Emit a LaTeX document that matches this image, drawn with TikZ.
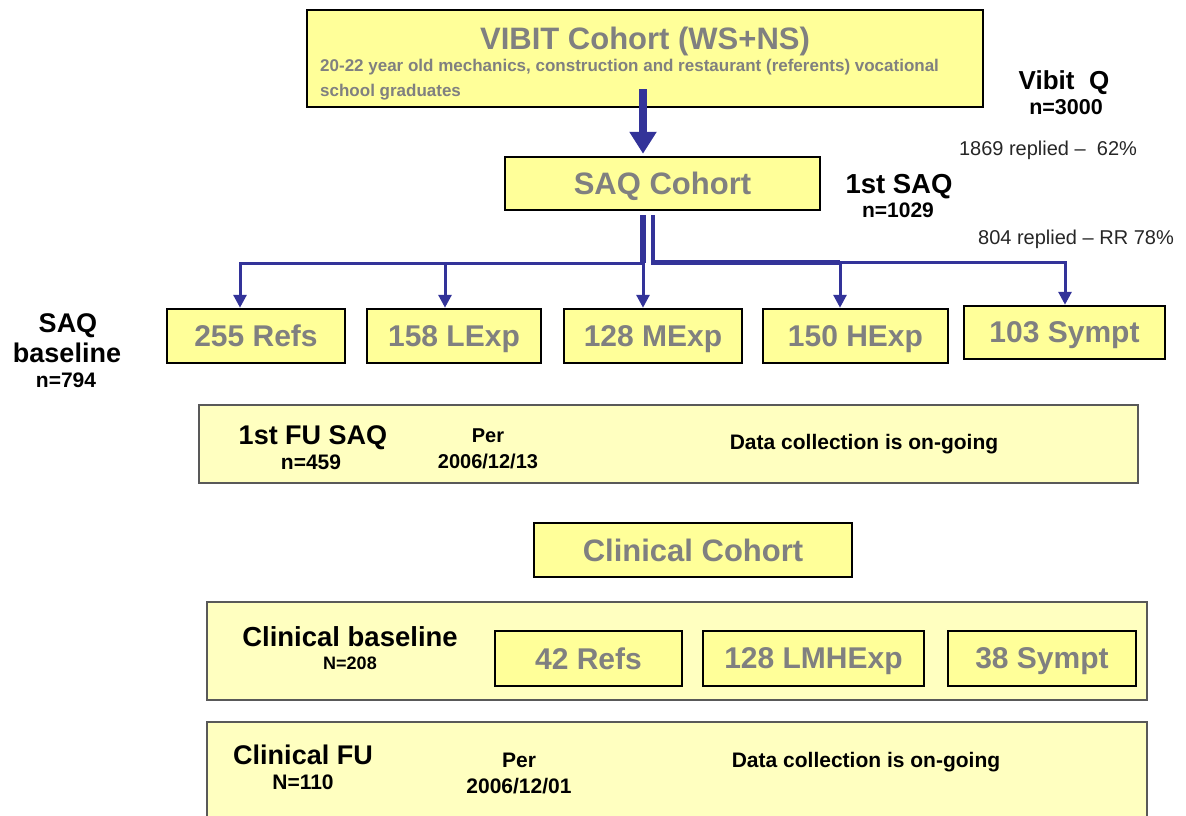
\documentclass[tikz,border=0pt]{standalone}
\usepackage{fontspec}
\setmainfont{Liberation Sans}
\usetikzlibrary{arrows.meta,positioning}
\definecolor{boxyellow}{HTML}{FFFF99}
\definecolor{paleyellow}{HTML}{FFFFC0}
\definecolor{labelgray}{HTML}{808080}
\definecolor{arrowblue}{HTML}{333399}
\newcommand{\fs}[1]{\fontsize{#1}{#1}\selectfont}
\tikzset{
    cohort/.style={draw=black, line width=2.5pt, fill=boxyellow, inner sep=0pt,
      text=labelgray, text depth=0pt, font=\bfseries\fs{30}},
    panel/.style={draw=black!65, line width=1.3pt, fill=paleyellow},
    head/.style={anchor=base, font=\bfseries\fs{27}},
    count/.style={anchor=base, font=\bfseries\fs{21}},
    note/.style={anchor=base, text=black!85, font=\fs{20}},
    branch/.style={draw=arrowblue, line width=3pt},
    drop/.style={branch, -{Triangle[width=13pt,length=13pt]}},
  }

\begin{document}
\begin{tikzpicture}[x=1pt,y=-1pt]
				  \useasboundingbox (0,0) rectangle (1186,816);
				  %cohort boxes
				  \node[cohort, minimum width=676, minimum height=97] (vibit) at (645,58.5) {};
				  \node[anchor=base, text=labelgray, font=\bfseries\fs{31}] (vibitT) at (645,49) {VIBIT Cohort (WS+NS)};
				  \node[anchor=base west, inner sep=0pt, text=labelgray, font=\bfseries\fs{17}] (vibitA) at (320,71)
				    {20-22 year old mechanics, construction and restaurant (referents) vocational};
				  \node[anchor=base west, inner sep=0pt, text=labelgray, font=\bfseries\fs{17}] (vibitB) at (320,96)
				    {school graduates};
				  \node[cohort, minimum width=315, minimum height=53, font=\bfseries\fs{31}] (saq) at (662.5,183.5) {SAQ Cohort};

				  %counts on the right
				  \node[head, font=\bfseries\fs{26}] (vq) at (1064,89) {Vibit~~Q};
				  \node[count, font=\bfseries\fs{21.5}] (vqn) at (1066,114) {n=3000};
				  \node[note] (rr1) at (1048,155) {1869 replied --~ 62\%};
				  \node[head, font=\bfseries\fs{27.5}] (sq) at (899,193) {1st SAQ};
				  \node[count] (sqn) at (898,217) {n=1029};
				  \node[note] (rr2) at (1076,244) {804 replied -- RR 78\%};

				  %saq baseline groups
				  \node[head] (sb1) at (68,332) {SAQ};
				  \node[head] (sb2) at (67,362) {baseline};
				  \node[count] (sb3) at (66,387) {n=794};
				  \node[cohort, minimum width=178, minimum height=54] (refs) at (256,336) {255 Refs};
				  \node[cohort, minimum width=174, minimum height=54] (lexp) at (454,336) {158 LExp};
				  \node[cohort, minimum width=178, minimum height=54] (mexp) at (653,336) {128 MExp};
				  \node[cohort, minimum width=185, minimum height=54] (hexp) at (855.5,336) {150 HExp};
				  \node[cohort, minimum width=201, minimum height=53] (sympt) at (1064.5,332.5) {103 Sympt};

				  %arrows
				  \draw[arrowblue, line width=8pt, -{Triangle[width=26pt,length=22pt]}]
				    ([xshift=-2pt,yshift=19pt]vibit.south) -- ([xshift=-19.5pt,yshift=2pt]saq.north);
				  \coordinate (forkL) at (645,263);
				  \coordinate (forkR) at (651,262);
				  \draw[branch, line width=6pt] ([xshift=-19.5pt,yshift=-4pt]saq.south) -- ++(0,48);
				  \draw[branch, line width=4pt] ([xshift=-9.5pt,yshift=-4pt]saq.south) -- ++(0,47);
				  \draw[drop] (forkL) -| ([xshift=-16pt]refs.north);
				  \draw[drop] (forkR) -| ([xshift=0.5pt]sympt.north);
				  \draw[branch, line width=5pt] (forkR) -- ([xshift=-15.5pt]hexp.north |- forkR);
				  \draw[drop] ([xshift=-9pt]lexp.north |- forkL) -- ([xshift=-9pt]lexp.north);
				  \draw[drop] ([xshift=-10pt]mexp.north |- forkL) -- ([xshift=-10pt]mexp.north);
				  \draw[drop] ([xshift=-15.5pt]hexp.north |- forkR) -- ([xshift=-15.5pt]hexp.north);

				  %follow up saq
				  \node[panel, minimum width=939, minimum height=78] (fu) at (668.5,444) {};
				  \node[head] (fuT) at (313,444) {1st FU SAQ};
				  \node[count] (fuN) at (311,469) {n=459};
				  \node[count, font=\bfseries\fs{20}] (fuP) at (488,442) {Per};
				  \node[count, font=\bfseries\fs{20}] (fuD) at (488,468) {2006/12/13};
				  \node[count] (fuC) at (864,449) {Data collection is on-going};

				  %clinical cohort
				  \node[cohort, minimum width=318, minimum height=54, font=\bfseries\fs{31}] (clin) at (693,550) {Clinical Cohort};
				  \node[panel, minimum width=940, minimum height=98] (cb) at (677,651) {};
				  \node[head, font=\bfseries\fs{27.5}] (cbT) at (350,646) {Clinical baseline};
				  \node[count, font=\bfseries\fs{18}] (cbN) at (350,669) {N=208};
				  \node[cohort, minimum width=187, minimum height=55] (crefs) at (588.5,658.5) {42 Refs};
				  \node[cohort, minimum width=221, minimum height=55] (clmh) at (813.5,658.5) {128 LMHExp};
				  \node[cohort, minimum width=188, minimum height=55] (csym) at (1042,658.5) {38 Sympt};

				  %clinical follow up
				  \node[panel, minimum width=940, minimum height=113] (cf) at (677,778.5) {};
				  \node[head] (cfT) at (303,764) {Clinical FU};
				  \node[count] (cfN) at (303,789) {N=110};
				  \node[count] (cfP) at (519,767) {Per};
				  \node[count] (cfD) at (519,793) {2006/12/01};
				  \node[count] (cfC) at (866,767) {Data collection is on-going};
				  \end{tikzpicture}
\end{document}
